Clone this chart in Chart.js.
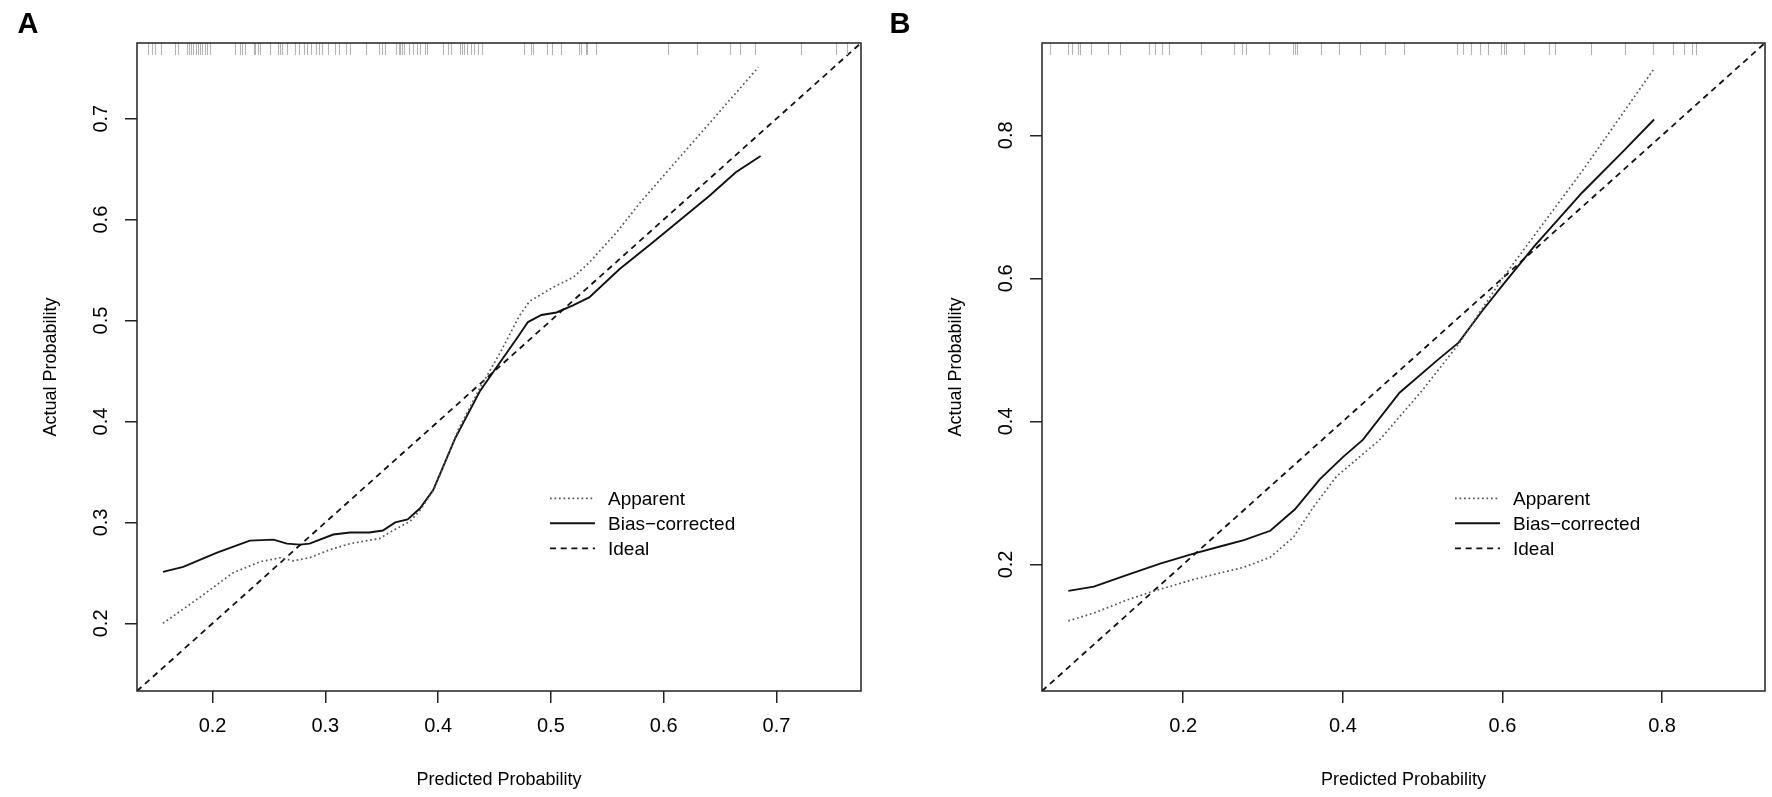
<!DOCTYPE html>
<html lang="en">
<head>
<meta charset="UTF-8">
<title>Calibration curves</title>
<script src="https://cdn.jsdelivr.net/npm/chart.js"></script>
<style>
    body {
        margin: 0;
        padding: 0;
        background: white;
        width: 1772px;
        height: 797px;
        overflow: hidden;
        position: relative;
    }
    .panel { position: absolute; top: 0; height: 797px; }
    #panelA { left: 0; width: 880px; }
    #panelB { left: 880px; width: 892px; }
</style>
</head>
<body>

<div class="panel" id="panelA"><canvas id="chartA"></canvas></div>
<div class="panel" id="panelB"><canvas id="chartB"></canvas></div>

<script>
    // ---- panel A ----
    const limA = [0.133, 0.775];
    const ticksA = [0.2, 0.3, 0.4, 0.5, 0.6, 0.7];
    const apparentAX = [0.156, 0.189, 0.218, 0.242, 0.260, 0.2715, 0.286, 0.304, 0.322, 0.348, 0.360, 0.375, 0.384, 0.396, 0.405, 0.418, 0.437, 0.455, 0.472, 0.481, 0.502, 0.520, 0.534, 0.558, 0.580, 0.684];
    const apparentAY = [0.200, 0.226, 0.250, 0.261, 0.265, 0.262, 0.265, 0.273, 0.279, 0.284, 0.292, 0.301, 0.312, 0.332, 0.356, 0.392, 0.433, 0.468, 0.5045, 0.519, 0.533, 0.543, 0.5575, 0.587, 0.618, 0.751];
    const biasAX = [0.156, 0.174, 0.204, 0.233, 0.254, 0.266, 0.2775, 0.286, 0.307, 0.322, 0.339, 0.351, 0.362, 0.373, 0.384, 0.3956, 0.404, 0.415, 0.437, 0.4545, 0.469, 0.4797, 0.4916, 0.505, 0.5196, 0.534, 0.561, 0.590, 0.6407, 0.664, 0.686];
    const biasAY = [0.251, 0.256, 0.270, 0.282, 0.283, 0.279, 0.278, 0.279, 0.288, 0.290, 0.290, 0.292, 0.300, 0.303, 0.314, 0.332, 0.354, 0.383, 0.430, 0.458, 0.481, 0.4985, 0.5055, 0.508, 0.515, 0.523, 0.551, 0.577, 0.6236, 0.647, 0.663];
    const rugA = [0.143, 0.146, 0.149, 0.154, 0.167, 0.169, 0.177, 0.179, 0.181, 0.183, 0.185, 0.187, 0.189, 0.191, 0.193, 0.195, 0.198,
        0.220, 0.224, 0.226, 0.229, 0.237, 0.238, 0.240, 0.242, 0.251, 0.258, 0.260, 0.262, 0.266, 0.273, 0.277, 0.281, 0.284, 0.287,
        0.292, 0.294, 0.297, 0.302, 0.309, 0.312, 0.318, 0.322, 0.336, 0.348, 0.350, 0.353, 0.363, 0.365, 0.366, 0.368, 0.370, 0.374,
        0.378, 0.381, 0.384, 0.388, 0.390, 0.404, 0.409, 0.411, 0.419, 0.421, 0.423, 0.426, 0.429, 0.432, 0.435, 0.439, 0.476, 0.482,
        0.484, 0.497, 0.501, 0.509, 0.525, 0.527, 0.531, 0.532, 0.540, 0.604, 0.630, 0.659, 0.668, 0.681, 0.722, 0.753, 0.763];

    // ---- panel B ----
    const limB = [0.023, 0.929];
    const ticksB = [0.2, 0.4, 0.6, 0.8];
    const apparentBX = [0.056, 0.088, 0.129, 0.158, 0.213, 0.276, 0.309, 0.338, 0.363, 0.392, 0.446, 0.500, 0.545, 0.600, 0.650, 0.700, 0.790];
    const apparentBY = [0.121, 0.132, 0.150, 0.161, 0.179, 0.196, 0.210, 0.238, 0.280, 0.323, 0.374, 0.444, 0.508, 0.600, 0.675, 0.750, 0.893];
    const biasBX = [0.056, 0.088, 0.129, 0.171, 0.213, 0.246, 0.276, 0.309, 0.340, 0.371, 0.400, 0.425, 0.471, 0.520, 0.545, 0.575, 0.600, 0.640, 0.700, 0.750, 0.790];
    const biasBY = [0.163, 0.169, 0.185, 0.201, 0.215, 0.225, 0.234, 0.247, 0.277, 0.319, 0.350, 0.374, 0.440, 0.487, 0.510, 0.555, 0.590, 0.645, 0.720, 0.776, 0.822];
    const rugB = [0.033, 0.056, 0.060, 0.068, 0.070, 0.084, 0.106, 0.121, 0.157, 0.164, 0.173, 0.182, 0.222, 0.263, 0.274, 0.279,
        0.307, 0.337, 0.340, 0.342, 0.372, 0.395, 0.422, 0.453, 0.477, 0.543, 0.551, 0.561, 0.572, 0.582, 0.598, 0.602, 0.605,
        0.627, 0.658, 0.666, 0.711, 0.753, 0.789, 0.814, 0.828, 0.838, 0.842];

    const legendLabels = ['Apparent', 'Bias\u2212corrected', 'Ideal'];
    const FONT = '"Liberation Sans", Arial, Helvetica, sans-serif';

    function toPoints(xs, ys) {
        return xs.map((x, i) => ({ x: x, y: ys[i] }));
    }

    // box, rug, rotated y labels, titles, legend and panel letter (R style)
    const decorPlugin = {
        id: 'decor',
        afterDraw(chart, args, opts) {
            const ctx = chart.ctx;
            const a = chart.chartArea;
            const xs = chart.scales.x, ys = chart.scales.y;
            ctx.save();

            ctx.strokeStyle = '#b4b4b4';
            ctx.lineWidth = 1.1;
            opts.rug.forEach(v => {
                const px = Math.round(xs.getPixelForValue(v)) + 0.5;
                ctx.beginPath();
                ctx.moveTo(px, a.top);
                ctx.lineTo(px, a.top + 12);
                ctx.stroke();
            });

            ctx.strokeStyle = '#222';
            ctx.lineWidth = 1.5;
            ctx.strokeRect(a.left, a.top, a.right - a.left, a.bottom - a.top);

            ctx.fillStyle = '#000';
            ctx.textAlign = 'center';
            ctx.textBaseline = 'middle';
            ctx.font = '20px ' + FONT;
            opts.yTicks.forEach(v => {
                ctx.save();
                ctx.translate(a.left - 36, ys.getPixelForValue(v));
                ctx.rotate(-Math.PI / 2);
                ctx.fillText(v.toFixed(1), 0, 0);
                ctx.restore();
            });

            ctx.font = '18px ' + FONT;
            ctx.fillText('Predicted Probability', (a.left + a.right) / 2, 780);
            ctx.save();
            ctx.translate(a.left - 86, (a.top + a.bottom) / 2);
            ctx.rotate(-Math.PI / 2);
            ctx.fillText('Actual Probability', 0, 0);
            ctx.restore();

            // legend
            ctx.font = '19px ' + FONT;
            ctx.textAlign = 'left';
            chart.data.datasets.forEach((ds, i) => {
                const ly = opts.legendY + i * 25;
                ctx.save();
                ctx.strokeStyle = ds.borderColor;
                ctx.lineWidth = ds.borderWidth;
                ctx.setLineDash(ds.borderDash || []);
                ctx.beginPath();
                ctx.moveTo(opts.legendX, ly);
                ctx.lineTo(opts.legendX + 45, ly);
                ctx.stroke();
                ctx.restore();
                ctx.fillText(ds.label, opts.legendX + 58, ly + 1);
            });

            ctx.font = 'bold 29px ' + FONT;
            ctx.textAlign = 'center';
            ctx.fillText(opts.letter, opts.letterX, 25);
            ctx.restore();
        }
    };

    function makePanel(id, p) {
        const ctx = document.getElementById(id).getContext('2d');
        const axisGrid = { drawOnChartArea: false, drawTicks: true, tickLength: 12, color: '#222', lineWidth: 1.5 };
        return new Chart(ctx, {
            type: 'scatter',
            data: {
                datasets: [
                    { label: legendLabels[0], data: toPoints(p.appX, p.appY), showLine: true, borderColor: '#555',
                      borderWidth: 1.7, borderDash: [1.7, 2.8], pointRadius: 0, tension: 0 },
                    { label: legendLabels[1], data: toPoints(p.biasX, p.biasY), showLine: true, borderColor: '#111',
                      borderWidth: 1.9, pointRadius: 0, tension: 0 },
                    { label: legendLabels[2], data: toPoints(p.lim, p.lim), showLine: true, borderColor: '#111',
                      borderWidth: 1.8, borderDash: [6, 4.7], pointRadius: 0, tension: 0 }
                ]
            },
            options: {
                responsive: true,
                maintainAspectRatio: false,
                animation: false,
                layout: { padding: p.padding },
                plugins: {
                    legend: { display: false },
                    tooltip: { enabled: false },
                    decor: { rug: p.rug, yTicks: p.ticks, legendX: p.legendX, legendY: 498.3, letter: p.letter, letterX: p.letterX }
                },
                scales: {
                    x: {
                        type: 'linear', bounds: 'data', min: p.lim[0], max: p.lim[1],
                        afterBuildTicks: s => { s.ticks = p.ticks.map(v => ({ value: v })); },
                        afterFit: s => { s.height = 106; },
                        grid: axisGrid,
                        border: { display: false },
                        ticks: { padding: 11, maxRotation: 0, autoSkip: false, color: '#000',
                                 font: { family: FONT, size: 20 }, callback: v => v.toFixed(1) }
                    },
                    y: {
                        type: 'linear', bounds: 'data', min: p.lim[0], max: p.lim[1],
                        afterBuildTicks: s => { s.ticks = p.ticks.map(v => ({ value: v })); },
                        afterFit: s => { s.width = p.yAxisWidth; },
                        grid: axisGrid,
                        border: { display: false },
                        ticks: { autoSkip: false, callback: () => '' }
                    }
                }
            },
            plugins: [decorPlugin]
        });
    }

    makePanel('chartA', {
        lim: limA, ticks: ticksA, appX: apparentAX, appY: apparentAY, biasX: biasAX, biasY: biasAY, rug: rugA,
        padding: { left: 0, right: 19, top: 43, bottom: 0 }, yAxisWidth: 137,
        legendX: 550, letter: 'A', letterX: 28
    });

    makePanel('chartB', {
        lim: limB, ticks: ticksB, appX: apparentBX, appY: apparentBY, biasX: biasBX, biasY: biasBY, rug: rugB,
        padding: { left: 0, right: 7, top: 43, bottom: 0 }, yAxisWidth: 162,
        legendX: 575, letter: 'B', letterX: 20
    });
</script>

</body>
</html>
